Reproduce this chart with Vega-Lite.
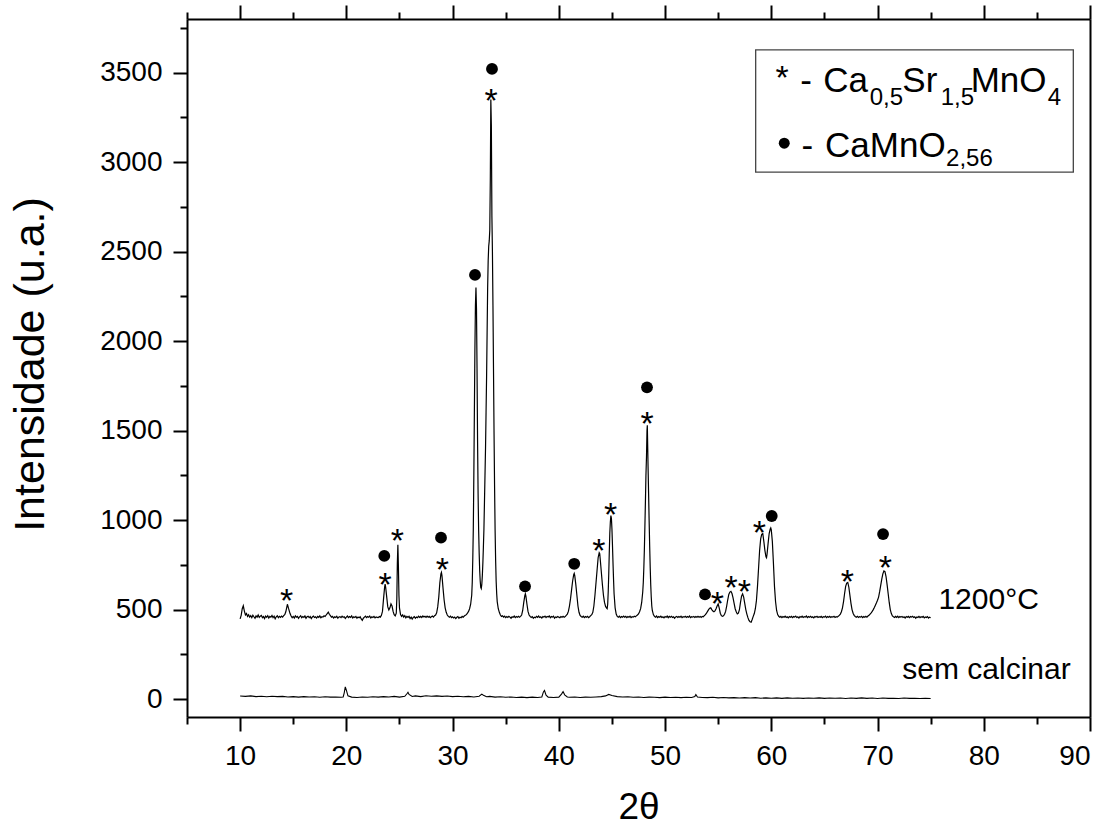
{
"$schema":"https://vega.github.io/schema/vega-lite/v6.json",
"width":903,"height":698,
"autosize":{"type":"none"},
"padding":{"left":187,"top":19,"right":22,"bottom":109},
"background":"white",
"config":{"view":{"stroke":null},"font":"Liberation Sans","axis":{"grid":false,"domainColor":"black","tickColor":"black","labelColor":"black","titleColor":"black","labelFont":"Liberation Sans","titleFont":"Liberation Sans","domainWidth":2,"tickWidth":2},"text":{"font":"Liberation Sans","color":"black"}},
"datasets":{
"c1200":[
{"x":10.0,"y":448},{"x":10.1,"y":468},{"x":10.2,"y":505},{"x":10.3,"y":522},{"x":10.4,"y":492},{"x":10.5,"y":470},{"x":10.6,"y":478},{"x":10.7,"y":462},{"x":10.8,"y":471},{"x":10.9,"y":458},
{"x":11.0,"y":466},{"x":11.1,"y":455},{"x":11.2,"y":469},{"x":11.3,"y":460},{"x":11.4,"y":452},{"x":11.5,"y":465},{"x":11.6,"y":458},{"x":11.7,"y":470},{"x":11.8,"y":456},{"x":11.9,"y":463},
{"x":12.0,"y":468},{"x":12.1,"y":455},{"x":12.2,"y":461},{"x":12.3,"y":450},{"x":12.4,"y":464},{"x":12.5,"y":457},{"x":12.6,"y":466},{"x":12.7,"y":453},{"x":12.8,"y":462},{"x":12.9,"y":458},
{"x":13.0,"y":467},{"x":13.1,"y":455},{"x":13.2,"y":463},{"x":13.3,"y":449},{"x":13.4,"y":460},{"x":13.5,"y":466},{"x":13.6,"y":455},{"x":13.7,"y":462},{"x":13.8,"y":457},{"x":13.9,"y":464},
{"x":14.0,"y":458},{"x":14.1,"y":466},{"x":14.2,"y":472},{"x":14.3,"y":488},{"x":14.4,"y":515},{"x":14.45,"y":530},{"x":14.55,"y":508},{"x":14.7,"y":478},{"x":14.8,"y":464},{"x":14.9,"y":455},
{"x":15.0,"y":462},{"x":15.1,"y":453},{"x":15.2,"y":465},{"x":15.3,"y":458},{"x":15.4,"y":462},{"x":15.5,"y":451},{"x":15.6,"y":460},{"x":15.7,"y":466},{"x":15.8,"y":455},{"x":15.9,"y":461},
{"x":16.0,"y":457},{"x":16.1,"y":465},{"x":16.2,"y":452},{"x":16.3,"y":460},{"x":16.4,"y":463},{"x":16.5,"y":455},{"x":16.6,"y":461},{"x":16.7,"y":450},{"x":16.8,"y":459},{"x":16.9,"y":464},
{"x":17.0,"y":456},{"x":17.1,"y":460},{"x":17.2,"y":453},{"x":17.3,"y":462},{"x":17.4,"y":457},{"x":17.5,"y":465},{"x":17.6,"y":454},{"x":17.7,"y":460},{"x":17.8,"y":458},{"x":17.9,"y":466},
{"x":18.0,"y":462},{"x":18.1,"y":470},{"x":18.2,"y":478},{"x":18.3,"y":486},{"x":18.4,"y":474},{"x":18.5,"y":466},{"x":18.6,"y":458},{"x":18.7,"y":462},{"x":18.8,"y":453},{"x":18.9,"y":460},
{"x":19.0,"y":456},{"x":19.1,"y":463},{"x":19.2,"y":452},{"x":19.3,"y":459},{"x":19.4,"y":461},{"x":19.5,"y":455},{"x":19.6,"y":463},{"x":19.7,"y":457},{"x":19.8,"y":460},{"x":19.9,"y":451},
{"x":20.0,"y":458},{"x":20.1,"y":464},{"x":20.2,"y":455},{"x":20.3,"y":461},{"x":20.4,"y":457},{"x":20.5,"y":465},{"x":20.6,"y":453},{"x":20.7,"y":460},{"x":20.8,"y":456},{"x":20.9,"y":462},
{"x":21.0,"y":452},{"x":21.1,"y":459},{"x":21.2,"y":455},{"x":21.3,"y":460},{"x":21.4,"y":448},{"x":21.5,"y":440},{"x":21.6,"y":452},{"x":21.7,"y":458},{"x":21.8,"y":463},{"x":21.9,"y":455},
{"x":22.0,"y":461},{"x":22.1,"y":457},{"x":22.2,"y":464},{"x":22.3,"y":453},{"x":22.4,"y":460},{"x":22.5,"y":456},{"x":22.6,"y":462},{"x":22.7,"y":454},{"x":22.8,"y":459},{"x":22.9,"y":457},
{"x":23.0,"y":455},{"x":23.1,"y":461},{"x":23.2,"y":458},{"x":23.3,"y":468},{"x":23.4,"y":490},{"x":23.5,"y":560},{"x":23.6,"y":625},{"x":23.65,"y":642},{"x":23.7,"y":625},{"x":23.8,"y":570},
{"x":23.9,"y":515},{"x":24.0,"y":498},{"x":24.1,"y":510},{"x":24.2,"y":532},{"x":24.3,"y":520},{"x":24.4,"y":490},{"x":24.5,"y":472},{"x":24.6,"y":465},{"x":24.7,"y":480},{"x":24.75,"y":560},
{"x":24.8,"y":760},{"x":24.85,"y":862},{"x":24.9,"y":740},{"x":24.95,"y":580},{"x":25.0,"y":510},{"x":25.1,"y":472},{"x":25.2,"y":462},{"x":25.3,"y":470},{"x":25.4,"y":458},{"x":25.5,"y":466},
{"x":25.6,"y":454},{"x":25.7,"y":462},{"x":25.8,"y":457},{"x":25.9,"y":463},{"x":26.0,"y":450},{"x":26.1,"y":458},{"x":26.2,"y":447},{"x":26.3,"y":456},{"x":26.4,"y":461},{"x":26.5,"y":452},
{"x":26.6,"y":459},{"x":26.7,"y":455},{"x":26.8,"y":463},{"x":26.9,"y":457},{"x":27.0,"y":462},{"x":27.1,"y":456},{"x":27.2,"y":465},{"x":27.3,"y":459},{"x":27.4,"y":463},{"x":27.5,"y":457},
{"x":27.6,"y":464},{"x":27.7,"y":458},{"x":27.8,"y":462},{"x":27.9,"y":455},{"x":28.0,"y":460},{"x":28.1,"y":464},{"x":28.2,"y":458},{"x":28.3,"y":466},{"x":28.4,"y":470},{"x":28.5,"y":482},
{"x":28.6,"y":515},{"x":28.7,"y":570},{"x":28.8,"y":650},{"x":28.9,"y":700},{"x":28.95,"y":708},{"x":29.0,"y":690},{"x":29.1,"y":620},{"x":29.2,"y":555},{"x":29.3,"y":510},{"x":29.4,"y":485},
{"x":29.5,"y":470},{"x":29.6,"y":462},{"x":29.7,"y":458},{"x":29.8,"y":463},{"x":29.9,"y":455},{"x":30.0,"y":460},{"x":30.1,"y":453},{"x":30.2,"y":458},{"x":30.3,"y":450},{"x":30.4,"y":457},
{"x":30.5,"y":461},{"x":30.6,"y":452},{"x":30.7,"y":458},{"x":30.8,"y":455},{"x":30.9,"y":462},{"x":31.0,"y":458},{"x":31.1,"y":464},{"x":31.2,"y":468},{"x":31.3,"y":472},{"x":31.4,"y":480},
{"x":31.5,"y":490},{"x":31.6,"y":505},{"x":31.7,"y":530},{"x":31.8,"y":580},{"x":31.85,"y":650},{"x":31.9,"y":780},{"x":31.95,"y":950},{"x":32.0,"y":1250},{"x":32.05,"y":1600},{"x":32.1,"y":1950},
{"x":32.15,"y":2200},{"x":32.2,"y":2300},{"x":32.25,"y":2180},{"x":32.3,"y":1850},{"x":32.35,"y":1450},{"x":32.4,"y":1150},{"x":32.45,"y":950},{"x":32.5,"y":820},{"x":32.55,"y":720},{"x":32.6,"y":660},
{"x":32.65,"y":625},{"x":32.7,"y":618},{"x":32.75,"y":640},{"x":32.8,"y":690},{"x":32.85,"y":760},{"x":32.9,"y":850},{"x":32.95,"y":950},{"x":33.0,"y":1100},{"x":33.05,"y":1250},{"x":33.1,"y":1400},
{"x":33.15,"y":1600},{"x":33.2,"y":1800},{"x":33.25,"y":2050},{"x":33.3,"y":2300},{"x":33.35,"y":2450},{"x":33.4,"y":2530},{"x":33.45,"y":2560},{"x":33.5,"y":2620},{"x":33.55,"y":2900},{"x":33.6,"y":3350},
{"x":33.65,"y":3200},{"x":33.7,"y":2700},{"x":33.75,"y":2500},{"x":33.8,"y":2200},{"x":33.85,"y":1850},{"x":33.9,"y":1500},{"x":33.95,"y":1200},{"x":34.0,"y":950},{"x":34.05,"y":780},{"x":34.1,"y":660},
{"x":34.15,"y":590},{"x":34.2,"y":545},{"x":34.3,"y":505},{"x":34.4,"y":485},{"x":34.5,"y":470},{"x":34.6,"y":462},{"x":34.7,"y":466},{"x":34.8,"y":458},{"x":34.9,"y":463},{"x":35.0,"y":455},
{"x":35.1,"y":461},{"x":35.2,"y":456},{"x":35.3,"y":463},{"x":35.4,"y":458},{"x":35.5,"y":452},{"x":35.6,"y":460},{"x":35.7,"y":457},{"x":35.8,"y":464},{"x":35.9,"y":455},{"x":36.0,"y":461},
{"x":36.1,"y":457},{"x":36.2,"y":463},{"x":36.3,"y":458},{"x":36.4,"y":462},{"x":36.5,"y":470},{"x":36.6,"y":495},{"x":36.7,"y":540},{"x":36.8,"y":578},{"x":36.85,"y":588},{"x":36.9,"y":575},
{"x":37.0,"y":530},{"x":37.1,"y":490},{"x":37.2,"y":470},{"x":37.3,"y":462},{"x":37.4,"y":456},{"x":37.5,"y":461},{"x":37.6,"y":452},{"x":37.7,"y":458},{"x":37.8,"y":455},{"x":37.9,"y":462},
{"x":38.0,"y":457},{"x":38.1,"y":464},{"x":38.2,"y":456},{"x":38.3,"y":460},{"x":38.4,"y":453},{"x":38.5,"y":461},{"x":38.6,"y":458},{"x":38.7,"y":464},{"x":38.8,"y":456},{"x":38.9,"y":462},
{"x":39.0,"y":459},{"x":39.1,"y":465},{"x":39.2,"y":455},{"x":39.3,"y":461},{"x":39.4,"y":458},{"x":39.5,"y":463},{"x":39.6,"y":452},{"x":39.7,"y":459},{"x":39.8,"y":456},{"x":39.9,"y":462},
{"x":40.0,"y":458},{"x":40.1,"y":455},{"x":40.2,"y":461},{"x":40.3,"y":457},{"x":40.4,"y":463},{"x":40.5,"y":458},{"x":40.6,"y":462},{"x":40.7,"y":468},{"x":40.8,"y":475},{"x":40.9,"y":490},
{"x":41.0,"y":520},{"x":41.1,"y":560},{"x":41.2,"y":610},{"x":41.3,"y":660},{"x":41.4,"y":695},{"x":41.45,"y":702},{"x":41.5,"y":690},{"x":41.6,"y":640},{"x":41.7,"y":580},{"x":41.8,"y":520},
{"x":41.9,"y":485},{"x":42.0,"y":468},{"x":42.1,"y":462},{"x":42.2,"y":458},{"x":42.3,"y":463},{"x":42.4,"y":455},{"x":42.5,"y":461},{"x":42.6,"y":457},{"x":42.7,"y":462},{"x":42.8,"y":455},
{"x":42.9,"y":460},{"x":43.0,"y":466},{"x":43.1,"y":472},{"x":43.2,"y":485},{"x":43.3,"y":520},{"x":43.4,"y":580},{"x":43.5,"y":650},{"x":43.6,"y":720},{"x":43.7,"y":790},{"x":43.8,"y":818},
{"x":43.85,"y":812},{"x":43.9,"y":780},{"x":44.0,"y":710},{"x":44.1,"y":640},{"x":44.2,"y":580},{"x":44.3,"y":540},{"x":44.4,"y":518},{"x":44.5,"y":508},{"x":44.55,"y":505},{"x":44.6,"y":530},
{"x":44.65,"y":600},{"x":44.7,"y":700},{"x":44.75,"y":820},{"x":44.8,"y":930},{"x":44.85,"y":990},{"x":44.9,"y":1025},{"x":44.95,"y":1010},{"x":45.0,"y":950},{"x":45.05,"y":860},{"x":45.1,"y":760},
{"x":45.15,"y":670},{"x":45.2,"y":590},{"x":45.3,"y":510},{"x":45.4,"y":475},{"x":45.5,"y":462},{"x":45.6,"y":458},{"x":45.7,"y":463},{"x":45.8,"y":455},{"x":45.9,"y":461},{"x":46.0,"y":457},
{"x":46.1,"y":464},{"x":46.2,"y":458},{"x":46.3,"y":462},{"x":46.4,"y":455},{"x":46.5,"y":461},{"x":46.6,"y":457},{"x":46.7,"y":463},{"x":46.8,"y":455},{"x":46.9,"y":460},{"x":47.0,"y":458},
{"x":47.1,"y":463},{"x":47.2,"y":460},{"x":47.3,"y":465},{"x":47.4,"y":470},{"x":47.5,"y":476},{"x":47.6,"y":488},{"x":47.7,"y":505},{"x":47.8,"y":540},{"x":47.9,"y":600},{"x":47.95,"y":650},
{"x":48.0,"y":730},{"x":48.05,"y":830},{"x":48.1,"y":960},{"x":48.15,"y":1100},{"x":48.2,"y":1250},{"x":48.25,"y":1350},{"x":48.3,"y":1500},{"x":48.33,"y":1530},{"x":48.37,"y":1400},{"x":48.4,"y":1300},
{"x":48.45,"y":1150},{"x":48.5,"y":1000},{"x":48.55,"y":860},{"x":48.6,"y":740},{"x":48.65,"y":640},{"x":48.7,"y":570},{"x":48.75,"y":520},{"x":48.8,"y":495},{"x":48.9,"y":472},{"x":49.0,"y":462},
{"x":49.1,"y":458},{"x":49.2,"y":464},{"x":49.3,"y":455},{"x":49.4,"y":461},{"x":49.5,"y":457},{"x":49.6,"y":463},{"x":49.7,"y":456},{"x":49.8,"y":460},{"x":49.9,"y":454},{"x":50.0,"y":461},
{"x":50.1,"y":457},{"x":50.2,"y":464},{"x":50.3,"y":455},{"x":50.4,"y":462},{"x":50.5,"y":458},{"x":50.6,"y":463},{"x":50.7,"y":456},{"x":50.8,"y":460},{"x":50.9,"y":452},{"x":51.0,"y":459},
{"x":51.1,"y":462},{"x":51.2,"y":456},{"x":51.3,"y":461},{"x":51.4,"y":457},{"x":51.5,"y":463},{"x":51.6,"y":455},{"x":51.7,"y":460},{"x":51.8,"y":458},{"x":51.9,"y":463},{"x":52.0,"y":456},
{"x":52.1,"y":461},{"x":52.2,"y":457},{"x":52.3,"y":464},{"x":52.4,"y":455},{"x":52.5,"y":460},{"x":52.6,"y":458},{"x":52.7,"y":462},{"x":52.8,"y":456},{"x":52.9,"y":461},{"x":53.0,"y":457},
{"x":53.1,"y":463},{"x":53.2,"y":458},{"x":53.3,"y":462},{"x":53.4,"y":456},{"x":53.5,"y":462},{"x":53.6,"y":460},{"x":53.7,"y":466},{"x":53.8,"y":472},{"x":53.9,"y":480},{"x":54.0,"y":490},
{"x":54.1,"y":500},{"x":54.2,"y":508},{"x":54.3,"y":510},{"x":54.4,"y":500},{"x":54.5,"y":492},{"x":54.6,"y":488},{"x":54.7,"y":493},{"x":54.8,"y":505},{"x":54.9,"y":520},{"x":55.0,"y":532},
{"x":55.1,"y":508},{"x":55.2,"y":480},{"x":55.3,"y":466},{"x":55.4,"y":462},{"x":55.5,"y":465},{"x":55.6,"y":474},{"x":55.7,"y":490},{"x":55.8,"y":520},{"x":55.9,"y":555},{"x":56.0,"y":585},
{"x":56.1,"y":598},{"x":56.2,"y":602},{"x":56.3,"y":590},{"x":56.4,"y":565},{"x":56.5,"y":535},{"x":56.6,"y":505},{"x":56.7,"y":488},{"x":56.8,"y":476},{"x":56.9,"y":480},{"x":57.0,"y":500},
{"x":57.1,"y":540},{"x":57.2,"y":575},{"x":57.3,"y":588},{"x":57.4,"y":570},{"x":57.5,"y":535},{"x":57.6,"y":500},{"x":57.7,"y":475},{"x":57.8,"y":455},{"x":57.9,"y":440},{"x":58.0,"y":432},
{"x":58.1,"y":430},{"x":58.2,"y":445},{"x":58.3,"y":462},{"x":58.4,"y":478},{"x":58.5,"y":505},{"x":58.6,"y":550},{"x":58.7,"y":630},{"x":58.8,"y":730},{"x":58.9,"y":830},{"x":59.0,"y":895},
{"x":59.1,"y":920},{"x":59.2,"y":925},{"x":59.3,"y":880},{"x":59.4,"y":830},{"x":59.5,"y":795},{"x":59.55,"y":790},{"x":59.6,"y":810},{"x":59.7,"y":870},{"x":59.8,"y":925},{"x":59.9,"y":950},
{"x":59.95,"y":956},{"x":60.0,"y":945},{"x":60.1,"y":880},{"x":60.2,"y":760},{"x":60.3,"y":630},{"x":60.4,"y":545},{"x":60.5,"y":495},{"x":60.6,"y":472},{"x":60.7,"y":463},{"x":60.8,"y":458},
{"x":60.9,"y":462},{"x":61.0,"y":455},{"x":61.1,"y":461},{"x":61.2,"y":457},{"x":61.3,"y":463},{"x":61.4,"y":456},{"x":61.5,"y":460},{"x":61.6,"y":454},{"x":61.7,"y":461},{"x":61.8,"y":457},
{"x":61.9,"y":462},{"x":62.0,"y":455},{"x":62.1,"y":461},{"x":62.2,"y":458},{"x":62.3,"y":464},{"x":62.4,"y":456},{"x":62.5,"y":460},{"x":62.6,"y":453},{"x":62.7,"y":461},{"x":62.8,"y":457},
{"x":62.9,"y":463},{"x":63.0,"y":456},{"x":63.1,"y":460},{"x":63.2,"y":458},{"x":63.3,"y":464},{"x":63.4,"y":455},{"x":63.5,"y":461},{"x":63.6,"y":457},{"x":63.7,"y":462},{"x":63.8,"y":456},
{"x":63.9,"y":460},{"x":64.0,"y":454},{"x":64.1,"y":461},{"x":64.2,"y":458},{"x":64.3,"y":463},{"x":64.4,"y":456},{"x":64.5,"y":460},{"x":64.6,"y":457},{"x":64.7,"y":462},{"x":64.8,"y":455},
{"x":64.9,"y":460},{"x":65.0,"y":458},{"x":65.1,"y":463},{"x":65.2,"y":455},{"x":65.3,"y":461},{"x":65.4,"y":457},{"x":65.5,"y":462},{"x":65.6,"y":456},{"x":65.7,"y":461},{"x":65.8,"y":458},
{"x":65.9,"y":463},{"x":66.0,"y":456},{"x":66.1,"y":460},{"x":66.2,"y":458},{"x":66.3,"y":463},{"x":66.4,"y":468},{"x":66.5,"y":475},{"x":66.6,"y":488},{"x":66.7,"y":510},{"x":66.8,"y":545},
{"x":66.9,"y":590},{"x":67.0,"y":630},{"x":67.1,"y":648},{"x":67.2,"y":652},{"x":67.3,"y":625},{"x":67.4,"y":580},{"x":67.5,"y":535},{"x":67.6,"y":500},{"x":67.7,"y":480},{"x":67.8,"y":468},
{"x":67.9,"y":462},{"x":68.0,"y":458},{"x":68.1,"y":463},{"x":68.2,"y":456},{"x":68.3,"y":461},{"x":68.4,"y":458},{"x":68.5,"y":462},{"x":68.6,"y":455},{"x":68.7,"y":461},{"x":68.8,"y":457},
{"x":68.9,"y":463},{"x":69.0,"y":458},{"x":69.1,"y":464},{"x":69.2,"y":468},{"x":69.3,"y":475},{"x":69.4,"y":482},{"x":69.5,"y":490},{"x":69.6,"y":500},{"x":69.7,"y":512},{"x":69.8,"y":525},
{"x":69.9,"y":538},{"x":70.0,"y":552},{"x":70.1,"y":570},{"x":70.2,"y":600},{"x":70.3,"y":635},{"x":70.4,"y":670},{"x":70.5,"y":700},{"x":70.6,"y":716},{"x":70.7,"y":712},{"x":70.8,"y":685},
{"x":70.9,"y":640},{"x":71.0,"y":590},{"x":71.1,"y":540},{"x":71.2,"y":500},{"x":71.3,"y":478},{"x":71.4,"y":465},{"x":71.5,"y":460},{"x":71.6,"y":456},{"x":71.7,"y":462},{"x":71.8,"y":457},
{"x":71.9,"y":463},{"x":72.0,"y":455},{"x":72.1,"y":461},{"x":72.2,"y":458},{"x":72.3,"y":462},{"x":72.4,"y":456},{"x":72.5,"y":460},{"x":72.6,"y":453},{"x":72.7,"y":461},{"x":72.8,"y":457},
{"x":72.9,"y":462},{"x":73.0,"y":455},{"x":73.1,"y":461},{"x":73.2,"y":458},{"x":73.3,"y":463},{"x":73.4,"y":456},{"x":73.5,"y":460},{"x":73.6,"y":452},{"x":73.7,"y":459},{"x":73.8,"y":456},
{"x":73.9,"y":462},{"x":74.0,"y":455},{"x":74.1,"y":460},{"x":74.2,"y":457},{"x":74.3,"y":462},{"x":74.4,"y":454},{"x":74.5,"y":459},{"x":74.6,"y":456},{"x":74.7,"y":461},{"x":74.8,"y":453},
{"x":74.9,"y":458},{"x":75.0,"y":455}
],
"sem":[
{"x":10.0,"y":17},{"x":10.5,"y":15},{"x":11.0,"y":18},{"x":11.5,"y":14},{"x":12.0,"y":16},{"x":12.5,"y":13},{"x":13.0,"y":16},{"x":13.5,"y":14},{"x":14.0,"y":15},{"x":14.5,"y":12},
{"x":15.0,"y":14},{"x":15.5,"y":11},{"x":16.0,"y":14},{"x":16.5,"y":12},{"x":17.0,"y":13},{"x":17.5,"y":10},{"x":18.0,"y":13},{"x":18.5,"y":11},{"x":19.0,"y":12},{"x":19.5,"y":10},
{"x":19.7,"y":12},{"x":19.8,"y":35},{"x":19.9,"y":68},{"x":20.0,"y":50},{"x":20.15,"y":18},{"x":20.5,"y":11},{"x":21.0,"y":9},{"x":21.5,"y":12},{"x":22.0,"y":10},{"x":22.5,"y":13},
{"x":23.0,"y":11},{"x":23.5,"y":14},{"x":24.0,"y":12},{"x":24.5,"y":15},{"x":25.0,"y":11},{"x":25.5,"y":16},{"x":25.7,"y":30},{"x":25.8,"y":38},{"x":25.9,"y":26},{"x":26.2,"y":15},
{"x":26.5,"y":18},{"x":27.0,"y":14},{"x":27.5,"y":19},{"x":28.0,"y":16},{"x":28.5,"y":18},{"x":29.0,"y":15},{"x":29.5,"y":17},{"x":30.0,"y":14},{"x":30.5,"y":16},{"x":31.0,"y":13},
{"x":31.5,"y":15},{"x":32.0,"y":12},{"x":32.5,"y":16},{"x":32.75,"y":28},{"x":32.9,"y":22},{"x":33.2,"y":13},{"x":33.5,"y":15},{"x":34.0,"y":11},{"x":34.5,"y":13},{"x":35.0,"y":10},
{"x":35.5,"y":12},{"x":36.0,"y":9},{"x":36.5,"y":11},{"x":37.0,"y":8},{"x":37.5,"y":11},{"x":38.0,"y":9},{"x":38.4,"y":12},{"x":38.55,"y":40},{"x":38.65,"y":48},{"x":38.8,"y":22},
{"x":39.0,"y":11},{"x":39.5,"y":9},{"x":40.0,"y":11},{"x":40.25,"y":28},{"x":40.4,"y":42},{"x":40.55,"y":24},{"x":40.8,"y":12},{"x":41.0,"y":10},{"x":41.5,"y":12},{"x":42.0,"y":9},
{"x":42.5,"y":11},{"x":43.0,"y":10},{"x":43.5,"y":12},{"x":44.0,"y":14},{"x":44.4,"y":18},{"x":44.7,"y":26},{"x":45.0,"y":20},{"x":45.5,"y":14},{"x":46.0,"y":12},{"x":46.5,"y":13},
{"x":47.0,"y":10},{"x":47.5,"y":12},{"x":48.0,"y":9},{"x":48.5,"y":11},{"x":49.0,"y":10},{"x":49.5,"y":8},{"x":50.0,"y":11},{"x":50.5,"y":9},{"x":51.0,"y":10},{"x":51.5,"y":8},
{"x":52.0,"y":10},{"x":52.5,"y":9},{"x":52.8,"y":14},{"x":52.9,"y":25},{"x":53.05,"y":12},{"x":53.5,"y":9},{"x":54.0,"y":8},{"x":54.5,"y":10},{"x":55.0,"y":7},{"x":55.5,"y":9},
{"x":56.0,"y":7},{"x":56.5,"y":8},{"x":57.0,"y":6},{"x":57.5,"y":8},{"x":58.0,"y":6},{"x":58.5,"y":8},{"x":59.0,"y":5},{"x":59.5,"y":7},{"x":60.0,"y":5},{"x":60.5,"y":7},
{"x":61.0,"y":4},{"x":61.5,"y":7},{"x":62.0,"y":5},{"x":62.5,"y":6},{"x":63.0,"y":4},{"x":63.5,"y":6},{"x":64.0,"y":5},{"x":64.5,"y":7},{"x":65.0,"y":4},{"x":65.5,"y":6},
{"x":66.0,"y":5},{"x":66.5,"y":6},{"x":67.0,"y":3},{"x":67.5,"y":6},{"x":68.0,"y":4},{"x":68.5,"y":7},{"x":69.0,"y":4},{"x":69.5,"y":6},{"x":70.0,"y":3},{"x":70.5,"y":6},
{"x":71.0,"y":4},{"x":71.5,"y":5},{"x":72.0,"y":3},{"x":72.5,"y":6},{"x":73.0,"y":4},{"x":73.5,"y":5},{"x":74.0,"y":3},{"x":74.5,"y":5},{"x":75.0,"y":3}
],
"stars":[
{"x":14.38,"y":591},{"x":23.64,"y":680},{"x":24.8,"y":926},{"x":29.03,"y":764},{"x":33.62,"y":3386},{"x":43.78,"y":874},{"x":44.88,"y":1075},{"x":48.3,"y":1582},{"x":54.92,"y":576},{"x":56.21,"y":665},{"x":57.46,"y":643},{"x":58.87,"y":973},{"x":67.16,"y":699},{"x":70.73,"y":777}
],
"dots":[
{"x":23.57,"y":800},{"x":28.91,"y":902},{"x":32.11,"y":2370},{"x":33.71,"y":3521},{"x":36.82,"y":630},{"x":41.45,"y":756},{"x":48.3,"y":1742},{"x":53.76,"y":585},{"x":60.04,"y":1023},{"x":70.52,"y":922}
],
"legbox":[{"x":58.53,"x2":88.43,"y":3627,"y2":2944}],
"legmain":[
{"x":62.72,"y":3394,"t":"-"},{"x":64.89,"y":3394,"t":"Ca"},{"x":72.33,"y":3394,"t":"Sr"},{"x":78.77,"y":3394,"t":"MnO"},
{"x":62.84,"y":3031,"t":"-"},{"x":65.06,"y":3031,"t":"CaMnO"}
],
"legsub":[
{"x":69.27,"y":3320,"t":"0,5"},{"x":75.95,"y":3320,"t":"1,5"},{"x":86.03,"y":3320,"t":"4"},{"x":76.45,"y":2980,"t":"2,56"}
],
"legstar":[{"x":61.01,"y":3517}],
"legdot":[{"x":61.22,"y":3106}],
"curvelabels":[{"x":75.73,"y":502,"t":"1200°C"},{"x":72.33,"y":111,"t":"sem calcinar"}]
},
"layer":[
{"data":{"name":"sem"},"mark":{"type":"line","color":"black","strokeWidth":1.1},
"encoding":{
"x":{"field":"x","type":"quantitative","scale":{"domain":[5,90],"nice":false,"zero":false},"axis":{"orient":"bottom","values":[5,15,25,35,45,55,65,75,85],"tickSize":7,"labels":false,"domain":false,"title":null}},
"y":{"field":"y","type":"quantitative","scale":{"domain":[-100,3800],"nice":false,"zero":false},"axis":{"orient":"left","values":[250,750,1250,1750,2250,2750,3250,3750],"tickSize":7,"labels":false,"domain":false,"title":null}}}},
{"data":{"name":"c1200"},"mark":{"type":"line","color":"black","strokeWidth":1.2},
"encoding":{
"x":{"field":"x","type":"quantitative","scale":{"domain":[5,90],"nice":false,"zero":false},"axis":{"orient":"bottom","values":[10,20,30,40,50,60,70,80,90],"tickSize":14,"labelFontSize":28,"labelPadding":11,"format":"d","labelOverlap":false,"title":"2θ","titleFontSize":37,"titleFontWeight":"normal","titleBaseline":"alphabetic","titleY":101}},
"y":{"field":"y","type":"quantitative","scale":{"domain":[-100,3800],"nice":false,"zero":false},"axis":{"orient":"left","values":[0,500,1000,1500,2000,2500,3000,3500],"tickSize":14,"labelFontSize":28,"labelPadding":11,"format":"d","labelOverlap":false,"title":"Intensidade (u.a.)","titleFontSize":43,"titleFontWeight":"normal","titleBaseline":"alphabetic","titleX":-144,"titleY":345}}}},
{"data":{"name":"stars"},"mark":{"type":"text","text":"*","fontSize":34,"align":"center","baseline":"alphabetic","dy":19,"color":"black"},
"encoding":{
"x":{"field":"x","type":"quantitative","scale":{"domain":[5,90],"nice":false,"zero":false},"axis":{"orient":"top","values":[10,20,30,40,50,60,70,80,90],"tickSize":14,"labels":false,"title":null}},
"y":{"field":"y","type":"quantitative","scale":{"domain":[-100,3800],"nice":false,"zero":false},"axis":{"orient":"right","ticks":false,"labels":false,"title":null}}}},
{"data":{"name":"dots"},"mark":{"type":"point","shape":"circle","filled":true,"size":140,"color":"black","opacity":1},
"encoding":{
"x":{"field":"x","type":"quantitative","scale":{"domain":[5,90],"nice":false,"zero":false},"axis":{"orient":"top","values":[5,15,25,35,45,55,65,75,85],"tickSize":7,"labels":false,"domain":false,"title":null}},
"y":{"field":"y","type":"quantitative","scale":{"domain":[-100,3800],"nice":false,"zero":false},"axis":null}}},
{"data":{"name":"legbox"},"mark":{"type":"rect","fill":"white","stroke":"#444444","strokeWidth":1.3},
"encoding":{
"x":{"field":"x","type":"quantitative","axis":null},"x2":{"field":"x2"},
"y":{"field":"y","type":"quantitative","axis":null},"y2":{"field":"y2"}}},
{"data":{"name":"legmain"},"mark":{"type":"text","fontSize":35,"align":"left","baseline":"alphabetic","color":"black"},
"encoding":{"x":{"field":"x","type":"quantitative","axis":null},"y":{"field":"y","type":"quantitative","axis":null},"text":{"field":"t"}}},
{"data":{"name":"legsub"},"mark":{"type":"text","fontSize":24,"align":"left","baseline":"alphabetic","color":"black"},
"encoding":{"x":{"field":"x","type":"quantitative","axis":null},"y":{"field":"y","type":"quantitative","axis":null},"text":{"field":"t"}}},
{"data":{"name":"legstar"},"mark":{"type":"text","text":"*","fontSize":34,"align":"center","baseline":"alphabetic","dy":19,"color":"black"},
"encoding":{"x":{"field":"x","type":"quantitative","axis":null},"y":{"field":"y","type":"quantitative","axis":null}}},
{"data":{"name":"legdot"},"mark":{"type":"point","shape":"circle","filled":true,"size":120,"color":"black","opacity":1},
"encoding":{"x":{"field":"x","type":"quantitative","axis":null},"y":{"field":"y","type":"quantitative","axis":null}}},
{"data":{"name":"curvelabels"},"mark":{"type":"text","fontSize":30,"align":"left","baseline":"alphabetic","color":"black"},
"encoding":{"x":{"field":"x","type":"quantitative","axis":null},"y":{"field":"y","type":"quantitative","axis":null},"text":{"field":"t"}}}
],
"resolve":{"axis":{"x":"independent","y":"independent"}}
}
